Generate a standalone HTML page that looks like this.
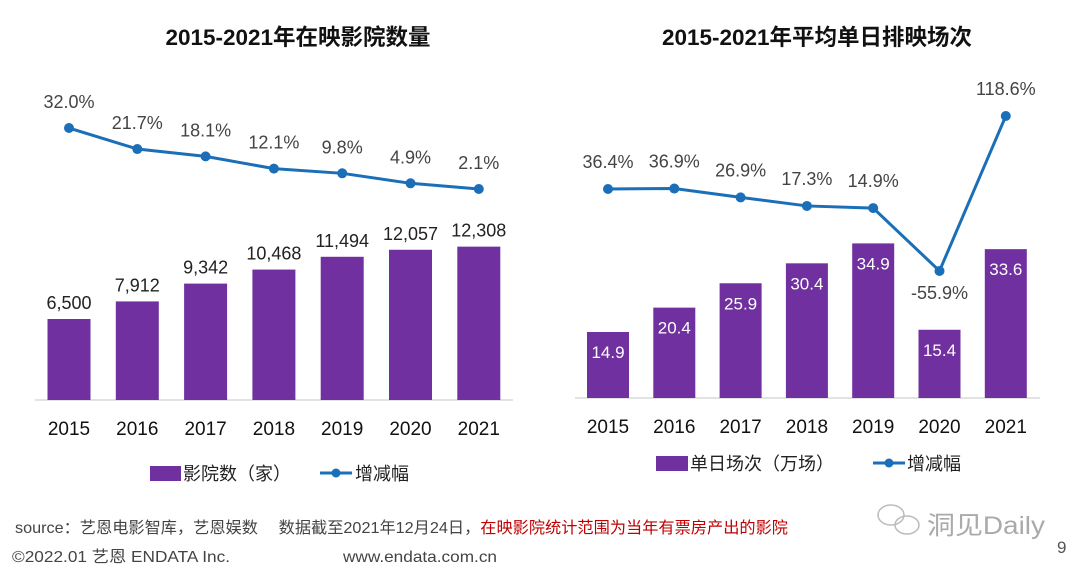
<!DOCTYPE html>
<html><head><meta charset="utf-8"><style>
html,body{margin:0;padding:0;background:#fff;}
svg{display:block;font-family:"Liberation Sans","Noto Sans CJK SC",sans-serif;}
</style></head><body>
<svg id="s" width="1080" height="575" viewBox="0 0 1080 575" xmlns="http://www.w3.org/2000/svg">
<text x="298" y="45" text-anchor="middle" font-size="22.5" font-weight="bold" fill="#111">2015-2021年在映影院数量</text>
<text x="817" y="45" text-anchor="middle" font-size="22.5" font-weight="bold" fill="#111">2015-2021年平均单日排映场次</text>
<line x1="35" y1="400" x2="513" y2="400" stroke="#d9d9d9" stroke-width="1.5"/>
<line x1="575" y1="398" x2="1040" y2="398" stroke="#d9d9d9" stroke-width="1.5"/>
<g id="L"></g>
<g id="R"></g>
<g>
<rect x="150" y="466" width="31" height="15" fill="#7030a0"/>
<text x="183" y="480" font-size="18" fill="#222">影院数（家）</text>
<line x1="320" y1="473" x2="352" y2="473" stroke="#1a6fb8" stroke-width="3"/>
<circle cx="336" cy="473" r="4.5" fill="#1a6fb8"/>
<text x="355" y="480" font-size="18" fill="#222">增减幅</text>
</g>
<g>
<rect x="656" y="456" width="32" height="15" fill="#7030a0"/>
<text x="690" y="470" font-size="18" fill="#222">单日场次（万场）</text>
<line x1="873" y1="463" x2="905" y2="463" stroke="#1a6fb8" stroke-width="3"/>
<circle cx="889" cy="463" r="4.5" fill="#1a6fb8"/>
<text x="907" y="470" font-size="18" fill="#222">增减幅</text>
</g>
<text x="15" y="533" font-size="16" fill="#444" textLength="773" lengthAdjust="spacingAndGlyphs">source：艺恩电影智库，艺恩娱数　 数据截至2021年12月24日，<tspan fill="#c00000">在映影院统计范围为当年有票房产出的影院</tspan></text>
<text x="12" y="562" font-size="16" fill="#444" textLength="218" lengthAdjust="spacingAndGlyphs">©2022.01 艺恩 ENDATA Inc.</text>
<text x="343" y="562" font-size="16" fill="#444" textLength="154" lengthAdjust="spacingAndGlyphs">www.endata.com.cn</text>
<g>
<ellipse cx="891" cy="515" rx="13" ry="10" fill="none" stroke="#bbb" stroke-width="1.5"/>
<ellipse cx="907" cy="525" rx="12" ry="9" fill="none" stroke="#bbb" stroke-width="1.5"/>
<text x="927" y="534" font-size="25" fill="#aaa" textLength="118" lengthAdjust="spacingAndGlyphs">洞见Daily</text>
</g>
<text x="1057" y="553" font-size="17" fill="#555">9</text>
</svg>
<script>
const years = ["2015","2016","2017","2018","2019","2020","2021"];
const cinemas = [6500,7912,9342,10468,11494,12057,12308];
const cinemaLabels = ["6,500","7,912","9,342","10,468","11,494","12,057","12,308"];
const cinemaGrowth = [32.0,21.7,18.1,12.1,9.8,4.9,2.1];
const shows = [14.9,20.4,25.9,30.4,34.9,15.4,33.6];
const showGrowth = [36.4,36.9,26.9,17.3,14.9,-55.9,118.6];
const NS="http://www.w3.org/2000/svg";
function mk(p,tag,a){const e=document.createElementNS(NS,tag);for(const k in a)e.setAttribute(k,a[k]);p.appendChild(e);return e;}
const lx=i=>69+i*68.3, ly=v=>400-v*0.01246, lg=v=>193.3-2.04*v;
const rx=i=>608+i*66.3, ry=v=>398-v*4.43, rg=v=>221.3-0.888*v;
const L=document.getElementById('L'), R=document.getElementById('R');
years.forEach((y,i)=>{
  let b=mk(L,'rect',{x:lx(i)-21.5,y:ly(cinemas[i]),width:43,height:400-ly(cinemas[i]),fill:'#7030a0'});
  
  
  let t=mk(L,'text',{x:lx(i),y:ly(cinemas[i])-10,'text-anchor':'middle','font-size':'18',fill:'#222'});t.textContent=cinemaLabels[i];
  
  
  let xl=mk(L,'text',{x:lx(i),y:435,'text-anchor':'middle','font-size':'19',fill:'#111'});xl.textContent=y;
  
  
  let b2=mk(R,'rect',{x:rx(i)-21,y:ry(shows[i]),width:42,height:398-ry(shows[i]),fill:'#7030a0'});
  
  
  let t2=mk(R,'text',{x:rx(i),y:ry(shows[i])+26,'text-anchor':'middle','font-size':'17',fill:'#fff'});t2.textContent=shows[i].toFixed(1);
  
  
  let xr=mk(R,'text',{x:rx(i),y:433,'text-anchor':'middle','font-size':'19',fill:'#111'});xr.textContent=y;
  
  
});
let lp=mk(L,'polyline',{points:years.map((y,i)=>lx(i)+','+lg(cinemaGrowth[i])).join(' '),fill:'none',stroke:'#1a6fb8','stroke-width':3});


let rp=mk(R,'polyline',{points:years.map((y,i)=>rx(i)+','+rg(showGrowth[i])).join(' '),fill:'none',stroke:'#1a6fb8','stroke-width':3});


years.forEach((y,i)=>{
  let c=mk(L,'circle',{cx:lx(i),cy:lg(cinemaGrowth[i]),r:5,fill:'#1a6fb8'});
  
  
  let t=mk(L,'text',{x:lx(i),y:lg(cinemaGrowth[i])-20,'text-anchor':'middle','font-size':'18',fill:'#444'});t.textContent=cinemaGrowth[i].toFixed(1)+'%';
  
  
  let c2=mk(R,'circle',{cx:rx(i),cy:rg(showGrowth[i]),r:5,fill:'#1a6fb8'});
  
  
  const below=showGrowth[i]<0;
  let t2=mk(R,'text',{x:rx(i),y:below?rg(showGrowth[i])+28:rg(showGrowth[i])-21,'text-anchor':'middle','font-size':'18',fill:'#444'});t2.textContent=showGrowth[i].toFixed(1)+'%';
  
  
});
</script>
</body></html>
